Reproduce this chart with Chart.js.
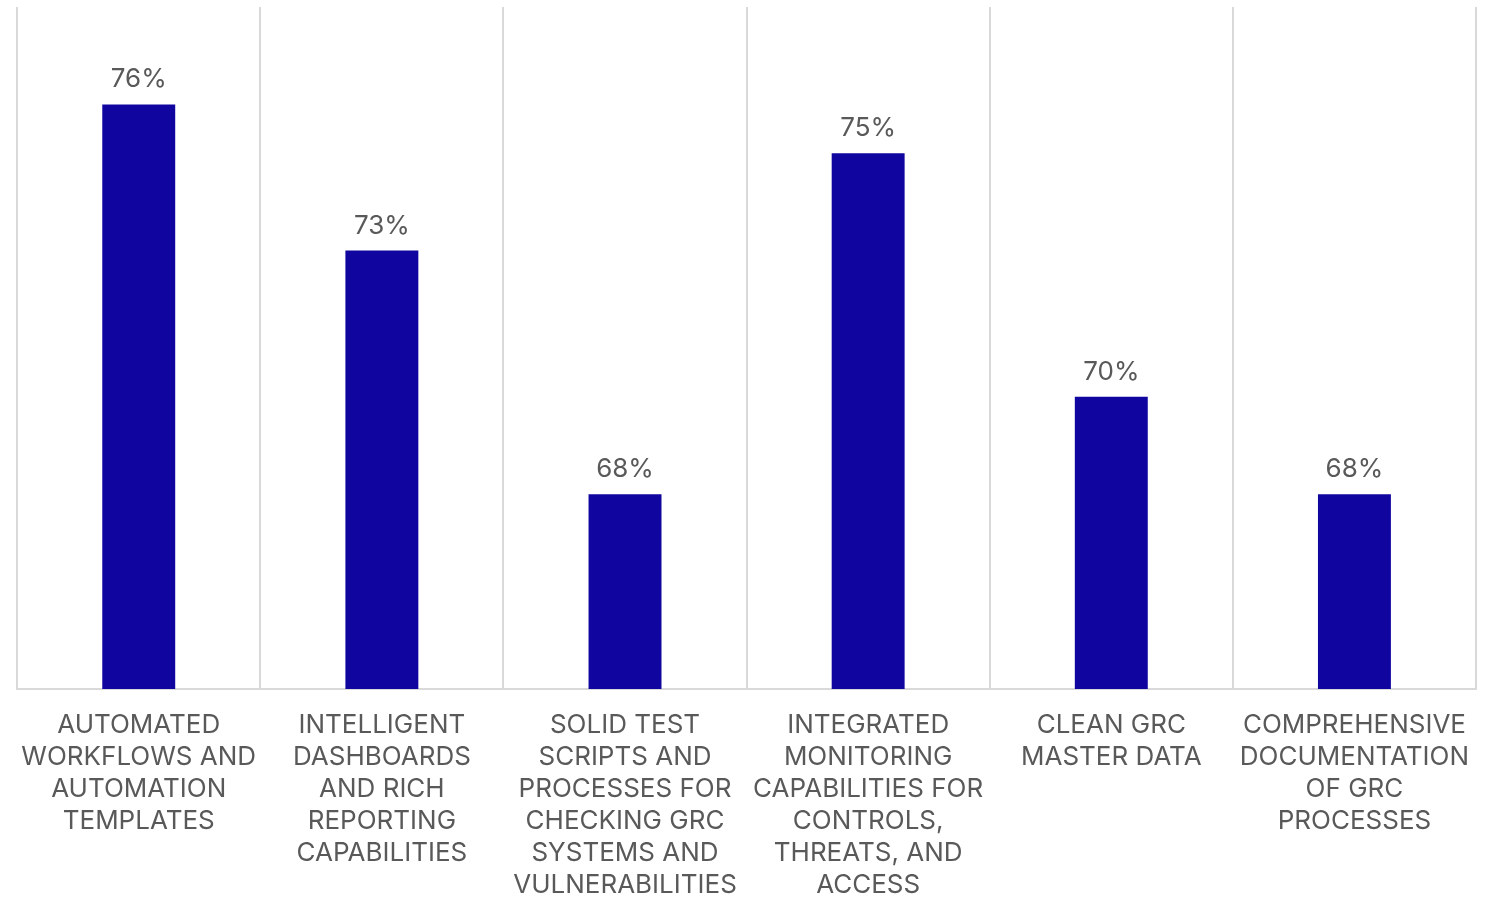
<!DOCTYPE html>
<html>
<head>
<meta charset="utf-8">
<script src="https://cdn.jsdelivr.net/npm/chart.js@4"></script>
<style>
  body { margin: 0; background: #fff; }
  #wrap { width: 1496px; height: 897px; position: relative; }
</style>
</head>
<body>
<div id="wrap"><canvas id="grcChart"></canvas></div>
<script>
const categories = [
  ['AUTOMATED', 'WORKFLOWS AND', 'AUTOMATION', 'TEMPLATES'],
  ['INTELLIGENT', 'DASHBOARDS', 'AND RICH', 'REPORTING', 'CAPABILITIES'],
  ['SOLID TEST', 'SCRIPTS AND', 'PROCESSES FOR', 'CHECKING GRC', 'SYSTEMS AND', 'VULNERABILITIES'],
  ['INTEGRATED', 'MONITORING', 'CAPABILITIES FOR', 'CONTROLS,', 'THREATS, AND', 'ACCESS'],
  ['CLEAN GRC', 'MASTER DATA'],
  ['COMPREHENSIVE', 'DOCUMENTATION', 'OF GRC', 'PROCESSES'],
];
const values = [76, 73, 68, 75, 70, 68];

const textColor = '#595959';
const gridColor = '#d9d9d9';

// draws the "76%" labels above each bar
const valueLabels = {
  id: 'valueLabels',
  afterDatasetsDraw(chart) {
    const ctx = chart.ctx;
    const meta = chart.getDatasetMeta(0);
    ctx.save();
    ctx.font = '26px Inter';
    ctx.fillStyle = textColor;
    ctx.textAlign = 'center';
    ctx.textBaseline = 'alphabetic';
    meta.data.forEach((bar, i) => {
      ctx.fillText(values[i] + '%', bar.x, bar.y - 17);
    });
    ctx.restore();
  },
};

const config = {
  type: 'bar',
  data: {
    labels: categories,
    datasets: [
      {
        data: values,
        backgroundColor: '#10069f',
        borderWidth: 0,
        barPercentage: 0.3,
        categoryPercentage: 1,
      },
    ],
  },
  options: {
    responsive: true,
    maintainAspectRatio: false,
    animation: false,
    layout: { padding: { top: 7, left: 16, right: 20, bottom: -24 } },
    plugins: {
      legend: { display: false },
      tooltip: { enabled: false },
    },
    scales: {
      x: {
        offset: true,
        grid: {
          display: true,
          offset: true,
          color: gridColor,
          lineWidth: 2,
          drawTicks: false,
        },
        border: { display: true, color: gridColor, width: 2 },
        ticks: {
          color: textColor,
          font: { family: 'Inter', size: 26, lineHeight: 1.23 },
          padding: 20,
          maxRotation: 0,
          autoSkip: false,
        },
      },
      y: {
        display: false,
        min: 64,
        max: 78,
      },
    },
  },
  plugins: [valueLabels],
};

new Chart(document.getElementById('grcChart'), config);
</script>
</body>
</html>
